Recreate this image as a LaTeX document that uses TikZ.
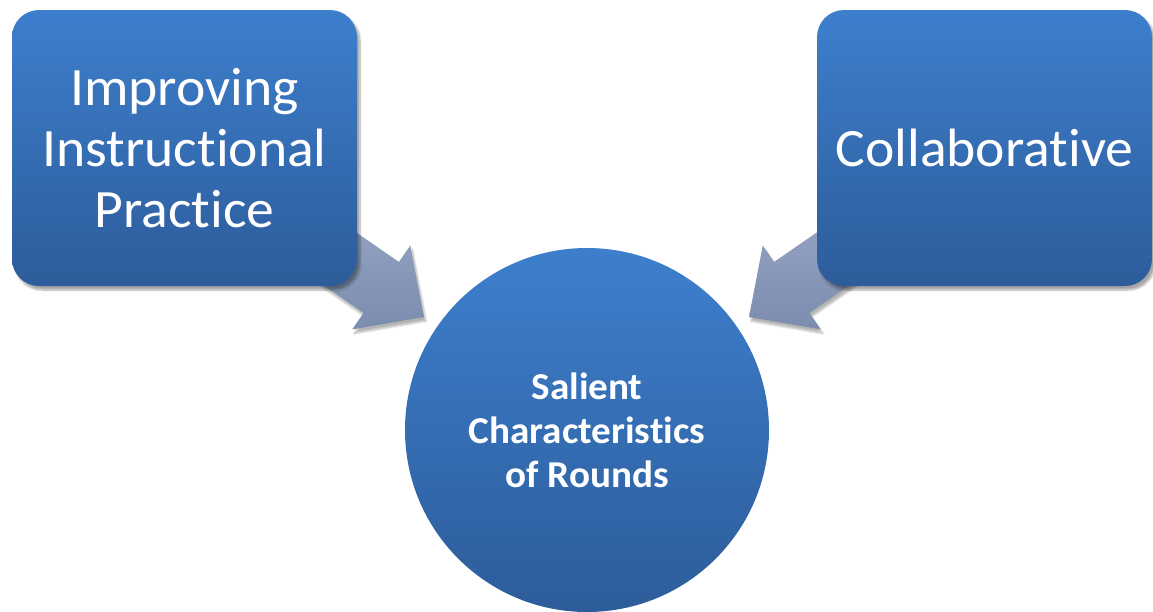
\documentclass[tikz,border=0pt]{standalone}
\usepackage{fontspec}
\setmainfont{Carlito}[Ligatures={NoCommon,NoContextual,NoRare}, Contextuals={NoAlternate}, FakeStretch=1.03]
\usetikzlibrary{calc,shadows.blur}
\definecolor{boxtop}{RGB}{61,127,205}
\definecolor{boxbot}{RGB}{45,92,154}
\definecolor{arrtop}{RGB}{152,167,198}
\definecolor{arrbot}{RGB}{124,140,174}
\tikzset{
  boxstyle/.style={rectangle, rounded corners=27pt, top color=boxtop, bottom color=boxbot,
    draw=none, text=white, align=center, minimum height=276pt,
    font=\fontsize{54}{61}\selectfont,
    blur shadow={shadow xshift=3pt, shadow yshift=-4pt, shadow blur steps=8, shadow opacity=35}},
  circstyle/.style={circle, top color=boxtop, bottom color=boxbot, draw=none, text=white,
    align=center, minimum size=364pt, inner sep=0pt,
    font=\fontsize{38}{44}\selectfont\bfseries},
  arrowfill/.style={top color=arrtop, bottom color=arrbot, draw=none,
    blur shadow={shadow xshift=2pt, shadow yshift=-4pt, shadow blur steps=8, shadow opacity=30}}
}
\newcommand\blockarrow[2]{%
  \path ($(#2)!52pt!(#1)$) coordinate (bb);
  \path[arrowfill] ($(#1)!31pt!90:(#2)$) -- ($(bb)!31pt!90:(#2)$) -- ($(bb)!51pt!90:(#2)$)
    -- (#2) -- ($(bb)!51pt!-90:(#2)$) -- ($(bb)!31pt!-90:(#2)$) -- ($(#1)!31pt!-90:(#2)$) -- cycle;
}
\begin{document}
\begin{tikzpicture}[x=1pt,y=-1pt]
  \useasboundingbox (0,0) rectangle (1153,611);
  \coordinate (ltail) at (291,225);
  \coordinate (ltip) at (424,317);
  \coordinate (rtail) at (882,225);
  \coordinate (rtip) at (749,317);
  \blockarrow{ltail}{ltip}
  \blockarrow{rtail}{rtip}
  \node[boxstyle, minimum width=345pt] (imp) at (184.5,148) {Improving\\Instructional\\Practice};
  \node[boxstyle, minimum width=335pt] (col) at (984.5,148) {Collaborative};
  \node[circstyle] (sal) at (587,430) {Salient\\Characteristics\\of Rounds};
\end{tikzpicture}
\end{document}
